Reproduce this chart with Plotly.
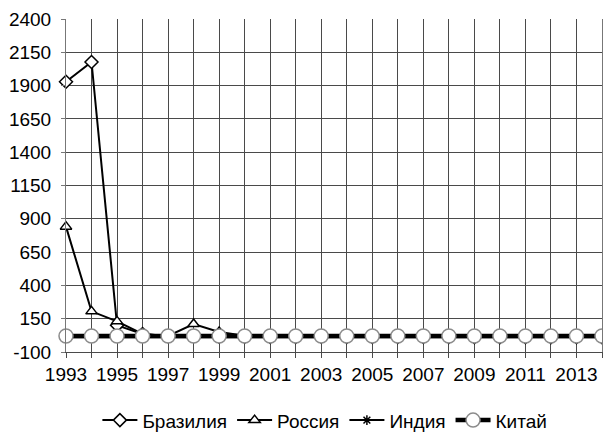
import plotly.graph_objects as go

# Data
years = [1993, 1994, 1995, 1996, 1997, 1998, 1999, 2000, 2001, 2002, 2003,
         2004, 2005, 2006, 2007, 2008, 2009, 2010, 2011, 2012, 2013, 2014]
brazil = [1929, 2077, 100, 35, 18, 18, 15, 15, 14, 14, 15,
          14, 14, 13, 13, 13, 12, 12, 12, 12, 12, 12]
russia = [841, 205, 130, 35, 20, 110, 50, 22, 20, 18, 17,
          16, 16, 15, 15, 15, 14, 14, 14, 14, 14, 14]
india = [10, 10, 10, 10, 10, 10, 10, 10, 10, 10, 10,
         10, 10, 10, 10, 10, 10, 10, 10, 10, 10, 10]
china = [20, 20, 20, 20, 20, 20, 20, 20, 20, 20, 20,
         20, 20, 20, 20, 20, 20, 20, 20, 20, 20, 20]
tick_labels = ["1993", "", "1995", "", "1997", "", "1999", "", "2001", "", "2003",
               "", "2005", "", "2007", "", "2009", "", "2011", "", "2013", ""]
y_ticks = [-100, 150, 400, 650, 900, 1150, 1400, 1650, 1900, 2150, 2400]
y_labels = ["-100", "150", "400", "650", "900", "1150", "1400", "1650", "1900", "2150", "2400"]

series = [
  ("Бразилия", brazil, "diamond", 10, "black", 2),
  ("Россия", russia, "triangle-up", 10, "black", 2),
  ("Индия", india, "asterisk", 8, "black", 2),
  ("Китай", china, "circle", 14, "#8c8c8c", 4.5),
]

fig = go.Figure()
for name, vals, symbol, size, mcolor, width in series:
  fig.add_trace(go.Scatter(
    x=years, y=vals, name=name, mode="lines+markers",
    line=dict(color="black", width=width),
    marker=dict(symbol=symbol, size=size, color="white",
                line=dict(color=mcolor, width=1.5)),
    cliponaxis=False,
  ))

fig.update_layout(
  width=603, height=441,
  margin=dict(l=66, r=1, t=19, b=89),
  paper_bgcolor="white", plot_bgcolor="white",
  font=dict(family="Liberation Sans, Arial, sans-serif", size=19, color="black"),
  showlegend=True,
  legend=dict(orientation="h", x=0.483, xanchor="center", y=-0.205, yanchor="middle",
              font=dict(size=19), itemwidth=35, traceorder="normal"),
)
fig.update_xaxes(
  range=[1993, 2014], tickvals=years, ticktext=tick_labels,
  showgrid=True, gridcolor="#4a4a4a", gridwidth=1,
  ticks="outside", ticklen=5, tickcolor="#4a4a4a",
  showline=True, linecolor="#4a4a4a", zeroline=False, automargin=False,
)
fig.update_yaxes(
  range=[-100, 2400], tickvals=y_ticks, ticktext=y_labels,
  showgrid=True, gridcolor="#4a4a4a", gridwidth=1,
  ticks="outside", ticklen=4, tickcolor="#777777", ticklabelstandoff=6,
  showline=True, linecolor="#777777", zeroline=False, mirror=True, automargin=False,
)

# drop the default 8px page margin so the figure fills the window
fig.write_html("out.html", config={"displayModeBar": False},
               post_script="document.body.style.margin = '0';")
